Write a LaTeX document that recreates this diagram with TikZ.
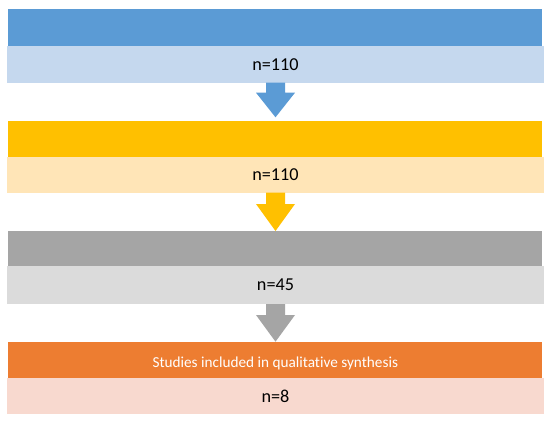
\documentclass[tikz,border=0pt]{standalone}
\usepackage{fontspec}
\setmainfont[Ligatures=NoCommon]{Carlito}
\definecolor{bA}{HTML}{5B9BD5}\definecolor{bB}{HTML}{C5D8EE}
\definecolor{yA}{HTML}{FFC000}\definecolor{yB}{HTML}{FFE5B7}
\definecolor{gA}{HTML}{A5A5A5}\definecolor{gB}{HTML}{DBDBDB}
\definecolor{oA}{HTML}{ED7D31}\definecolor{oB}{HTML}{F8D9CF}
\tikzset{
  darkbox/.style={draw=none,minimum width=534pt,anchor=north,inner sep=0pt},
  lightbox/.style={draw=none,minimum width=537.6pt,anchor=north,inner sep=0pt,font=\fontsize{18.2}{21}\selectfont,text=black},
}
\begin{document}
\begin{tikzpicture}[x=1pt,y=-1pt]
\useasboundingbox[fill=white] (0,0) rectangle (550,423);
% blocks
\node[darkbox,fill=bA,minimum height=37.4pt] (d1) at (275.3,8.3) {};
\node[lightbox,fill=bB,minimum height=37pt] (l1) at (275.5,45.7) {n=110};
\node[darkbox,fill=yA,minimum height=36pt] (d2) at (275.3,120.7) {};
\node[lightbox,fill=yB,minimum height=36pt] (l2) at (275.5,156.7) {n=110};
\node[darkbox,fill=gA,minimum height=35.3pt] (d3) at (275.3,230.7) {};
\node[lightbox,fill=gB,minimum height=38pt] (l3) at (275.5,266) {n=45};
\node[darkbox,fill=oA,minimum height=36.3pt,
  label={[text=white,font=\fontsize{15.25}{18}\selectfont,yshift=-3.5pt]center:Studies included in qualitative synthesis}] (d4) at (275.3,341.7) {};
\node[lightbox,fill=oB,minimum height=36pt] (l4) at (275.5,378) {n=8};
% arrows
\fill[bA] (266,82.7) -- (285,82.7) -- (285,92.7) -- (295,92.7) -- (275.5,117.3) -- (256,92.7) -- (266,92.7) -- cycle;
\fill[yA] (266,192.7) -- (285,192.7) -- (285,204) -- (295,204) -- (275.5,231) -- (256,204) -- (266,204) -- cycle;
\fill[gA] (266,304) -- (285,304) -- (285,315) -- (295,315) -- (275.5,341.7) -- (256,315) -- (266,315) -- cycle;
\end{tikzpicture}
\end{document}
